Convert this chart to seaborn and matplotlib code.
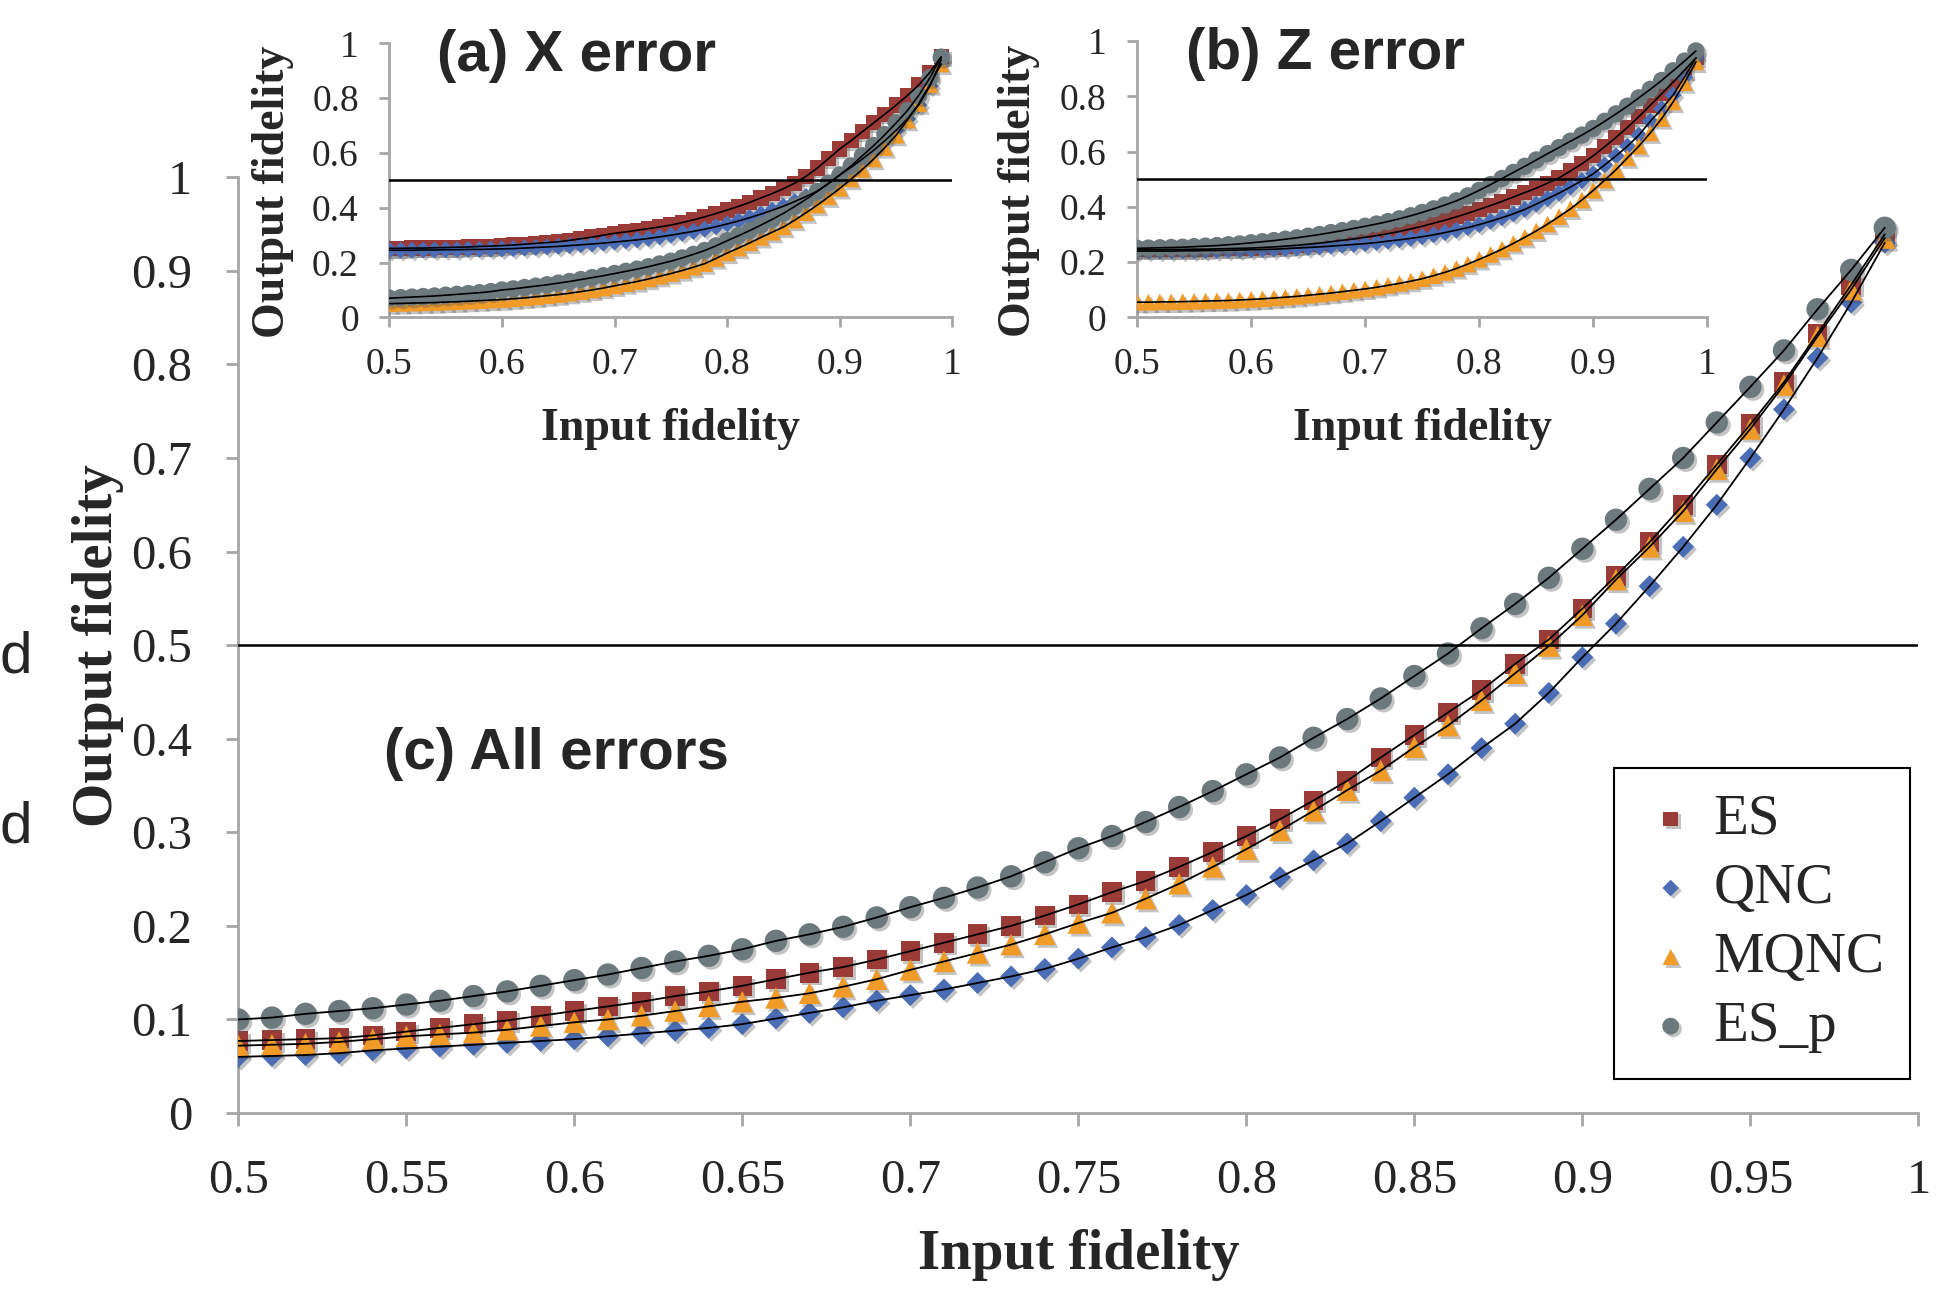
import matplotlib
matplotlib.use('Agg')
import matplotlib.pyplot as plt
import matplotlib.patheffects as pe
from matplotlib.ticker import FuncFormatter, MultipleLocator
import seaborn as sns

# Input fidelity grid (shared by all panels)
fidelity_in = [
    0.50, 0.51, 0.52, 0.53, 0.54, 0.55, 0.56, 0.57, 0.58, 0.59,
    0.60, 0.61, 0.62, 0.63, 0.64, 0.65, 0.66, 0.67, 0.68, 0.69,
    0.70, 0.71, 0.72, 0.73, 0.74, 0.75, 0.76, 0.77, 0.78, 0.79,
    0.80, 0.81, 0.82, 0.83, 0.84, 0.85, 0.86, 0.87, 0.88, 0.89,
    0.90, 0.91, 0.92, 0.93, 0.94, 0.95, 0.96, 0.97, 0.98, 0.99,
]

# (c) All errors
all_es = [
    0.077, 0.078, 0.079, 0.080, 0.083, 0.087, 0.091, 0.095, 0.099, 0.104,
    0.109, 0.114, 0.119, 0.125, 0.130, 0.136, 0.143, 0.150, 0.156, 0.164,
    0.173, 0.182, 0.191, 0.200, 0.211, 0.223, 0.236, 0.248, 0.263, 0.279,
    0.296, 0.314, 0.334, 0.355, 0.380, 0.404, 0.428, 0.452, 0.480, 0.506,
    0.539, 0.574, 0.610, 0.650, 0.693, 0.736, 0.781, 0.833, 0.885, 0.939,
]
all_qnc = [
    0.060, 0.061, 0.062, 0.064, 0.067, 0.069, 0.071, 0.073, 0.075, 0.077,
    0.079, 0.082, 0.085, 0.088, 0.091, 0.095, 0.101, 0.107, 0.113, 0.120,
    0.126, 0.132, 0.139, 0.146, 0.154, 0.165, 0.177, 0.188, 0.201, 0.217,
    0.233, 0.252, 0.270, 0.288, 0.312, 0.337, 0.362, 0.390, 0.416, 0.449,
    0.487, 0.523, 0.563, 0.605, 0.650, 0.700, 0.752, 0.807, 0.866, 0.930,
]
all_mqnc = [
    0.072, 0.073, 0.074, 0.076, 0.079, 0.082, 0.084, 0.086, 0.089, 0.093,
    0.097, 0.100, 0.104, 0.109, 0.114, 0.119, 0.123, 0.128, 0.135, 0.143,
    0.153, 0.162, 0.171, 0.180, 0.191, 0.203, 0.214, 0.229, 0.245, 0.263,
    0.282, 0.302, 0.323, 0.345, 0.366, 0.391, 0.414, 0.441, 0.470, 0.499,
    0.532, 0.570, 0.605, 0.643, 0.688, 0.731, 0.778, 0.830, 0.880, 0.935,
]
all_esp = [
    0.100, 0.102, 0.106, 0.109, 0.112, 0.116, 0.120, 0.125, 0.130, 0.136,
    0.142, 0.148, 0.155, 0.162, 0.168, 0.175, 0.184, 0.191, 0.199, 0.209,
    0.220, 0.230, 0.241, 0.253, 0.268, 0.283, 0.296, 0.311, 0.327, 0.344,
    0.362, 0.380, 0.401, 0.421, 0.443, 0.467, 0.491, 0.518, 0.544, 0.572,
    0.603, 0.634, 0.667, 0.700, 0.738, 0.776, 0.815, 0.859, 0.901, 0.946,
]

# (a) X error
x_es = [
    0.252, 0.252, 0.253, 0.253, 0.254, 0.255, 0.256, 0.257, 0.259, 0.260,
    0.262, 0.264, 0.267, 0.270, 0.273, 0.276, 0.281, 0.287, 0.293, 0.300,
    0.307, 0.312, 0.318, 0.324, 0.330, 0.337, 0.346, 0.356, 0.367, 0.379,
    0.392, 0.405, 0.420, 0.436, 0.452, 0.470, 0.490, 0.515, 0.545, 0.580,
    0.615, 0.645, 0.678, 0.710, 0.742, 0.775, 0.810, 0.848, 0.895, 0.951,
]
x_qnc = [
    0.245, 0.245, 0.245, 0.246, 0.246, 0.247, 0.247, 0.248, 0.248, 0.249,
    0.250, 0.251, 0.253, 0.255, 0.257, 0.259, 0.262, 0.265, 0.268, 0.271,
    0.275, 0.279, 0.283, 0.288, 0.294, 0.300, 0.307, 0.314, 0.322, 0.331,
    0.341, 0.352, 0.364, 0.377, 0.391, 0.406, 0.423, 0.441, 0.461, 0.488,
    0.520, 0.548, 0.578, 0.610, 0.645, 0.683, 0.725, 0.775, 0.845, 0.940,
]
x_mqnc = [
    0.050, 0.051, 0.052, 0.053, 0.054, 0.056, 0.057, 0.059, 0.061, 0.063,
    0.065, 0.068, 0.071, 0.075, 0.079, 0.083, 0.088, 0.094, 0.100, 0.107,
    0.115, 0.123, 0.131, 0.140, 0.150, 0.160, 0.171, 0.183, 0.196, 0.215,
    0.235, 0.253, 0.272, 0.292, 0.311, 0.330, 0.355, 0.382, 0.410, 0.440,
    0.471, 0.505, 0.540, 0.578, 0.620, 0.665, 0.720, 0.780, 0.850, 0.925,
]
x_esp = [
    0.070, 0.072, 0.074, 0.076, 0.078, 0.081, 0.084, 0.087, 0.090, 0.094,
    0.100, 0.104, 0.109, 0.114, 0.119, 0.125, 0.131, 0.138, 0.145, 0.152,
    0.160, 0.168, 0.176, 0.185, 0.195, 0.205, 0.217, 0.230, 0.244, 0.261,
    0.280, 0.298, 0.317, 0.337, 0.358, 0.380, 0.405, 0.431, 0.460, 0.490,
    0.520, 0.553, 0.590, 0.627, 0.667, 0.710, 0.755, 0.810, 0.875, 0.950,
]

# (b) Z error
z_es = [
    0.245, 0.245, 0.245, 0.246, 0.246, 0.247, 0.247, 0.248, 0.249, 0.250,
    0.251, 0.253, 0.255, 0.258, 0.261, 0.265, 0.269, 0.274, 0.279, 0.284,
    0.290, 0.296, 0.303, 0.311, 0.320, 0.330, 0.341, 0.352, 0.364, 0.377,
    0.391, 0.405, 0.420, 0.436, 0.452, 0.468, 0.486, 0.505, 0.530, 0.556,
    0.585, 0.618, 0.652, 0.688, 0.727, 0.768, 0.810, 0.852, 0.895, 0.940,
]
z_qnc = [
    0.240, 0.240, 0.240, 0.240, 0.241, 0.241, 0.242, 0.242, 0.243, 0.244,
    0.245, 0.246, 0.247, 0.249, 0.251, 0.253, 0.255, 0.258, 0.261, 0.264,
    0.267, 0.271, 0.276, 0.281, 0.286, 0.292, 0.299, 0.307, 0.316, 0.325,
    0.336, 0.348, 0.361, 0.375, 0.391, 0.410, 0.430, 0.450, 0.472, 0.495,
    0.520, 0.552, 0.585, 0.620, 0.660, 0.710, 0.755, 0.805, 0.870, 0.940,
]
z_mqnc = [
    0.055, 0.055, 0.056, 0.056, 0.057, 0.058, 0.059, 0.060, 0.061, 0.063,
    0.065, 0.067, 0.070, 0.073, 0.076, 0.080, 0.084, 0.088, 0.093, 0.098,
    0.103, 0.109, 0.116, 0.123, 0.131, 0.140, 0.151, 0.163, 0.177, 0.193,
    0.210, 0.228, 0.247, 0.268, 0.290, 0.313, 0.338, 0.365, 0.393, 0.425,
    0.460, 0.497, 0.535, 0.578, 0.620, 0.668, 0.720, 0.780, 0.850, 0.925,
]
z_esp = [
    0.250, 0.251, 0.252, 0.253, 0.254, 0.256, 0.258, 0.260, 0.263, 0.266,
    0.270, 0.274, 0.278, 0.283, 0.288, 0.294, 0.300, 0.307, 0.314, 0.322,
    0.330, 0.338, 0.347, 0.357, 0.368, 0.380, 0.393, 0.407, 0.422, 0.440,
    0.460, 0.481, 0.503, 0.525, 0.547, 0.570, 0.593, 0.615, 0.638, 0.660,
    0.684, 0.710, 0.737, 0.765, 0.795, 0.826, 0.858, 0.893, 0.928, 0.965,
]

series_names = ['ES', 'QNC', 'MQNC', 'ES_p']
series_colors = ['#9b3b38', '#4a6db5', '#f09a28', '#6c7a7e']
series_markers = ['s', 'D', '^', 'o']
series_sizes = [200, 125, 240, 260]   # marker area (pt^2) in the main panel
threshold = 0.5

SERIF = ['Liberation Serif', 'DejaVu Serif']
SANS = ['Liberation Sans Narrow', 'Liberation Sans', 'DejaVu Sans']
SPINE_GRAY = '#a6a6a6'

sns.set_theme(style="ticks")
plt.rcParams['font.family'] = SERIF


def fmt(v, pos):
    return f"{v:g}"


def draw_panel(ax, values, size_scale, line_w):
    shadow = [pe.SimplePatchShadow(offset=(2, -2), shadow_rgbFace='#555555', alpha=0.35),
              pe.Normal()]
    for name, vals, col, mk, sz in zip(series_names, values, series_colors,
                                       series_markers, series_sizes):
        sns.scatterplot(x=fidelity_in, y=vals, color=col, marker=mk,
                        s=sz * size_scale, edgecolor='none', linewidth=0,
                        label=name, ax=ax, zorder=3, legend=False)
        ax.collections[-1].set_path_effects(shadow)
    for vals in values:
        sns.lineplot(x=fidelity_in, y=vals, color='black', lw=line_w, ax=ax,
                     legend=False, zorder=5)
    ax.axhline(threshold, color='black', lw=1.8, zorder=4)
    sns.despine(ax=ax)
    for side in ('left', 'bottom'):
        ax.spines[side].set_color(SPINE_GRAY)
        ax.spines[side].set_linewidth(2)
    ax.set_ylim(0, 1)
    ax.xaxis.set_major_formatter(FuncFormatter(fmt))
    ax.yaxis.set_major_formatter(FuncFormatter(fmt))


fig = plt.figure(figsize=(19.47, 12.89), dpi=100)
fig.patch.set_facecolor('white')

# main panel (c)
ax = fig.add_axes([0.1224, 0.1365, 0.8629, 0.726])
draw_panel(ax, [all_es, all_qnc, all_mqnc, all_esp], 1.0, 1.3)
ax.set_xlim(0.5, 1.0)
ax.xaxis.set_major_locator(MultipleLocator(0.05))
ax.yaxis.set_major_locator(MultipleLocator(0.1))
ax.tick_params(axis='both', direction='out', length=9, width=2, color=SPINE_GRAY,
               labelsize=35, pad=24)
ax.set_xlabel('Input fidelity', fontsize=41, fontweight='bold')
ax.set_ylabel('Output fidelity', fontsize=41, fontweight='bold')
ax.xaxis.set_label_coords(0.5, -0.124)
ax.yaxis.set_label_coords(-0.068, 0.5)
ax.text(0.087, 0.384, '(c) All errors', transform=ax.transAxes, fontsize=42,
        fontweight='bold', family=SANS, va='center', ha='left')

leg = ax.legend(loc='upper right', bbox_to_anchor=(0.981, 0.404),
                bbox_transform=fig.transFigure, fontsize=41, frameon=True,
                fancybox=False, edgecolor='black', framealpha=1,
                borderpad=0.45, handletextpad=0.2, labelspacing=0.3,
                handlelength=1.1, markerscale=0.75, borderaxespad=0)
leg.get_frame().set_linewidth(1.5)

# inset panels (a) and (b)
insets = [
    ([0.2, 0.7538, 0.2892, 0.2125], [x_es, x_qnc, x_mqnc, x_esp], '(a) X error'),
    ([0.584, 0.7538, 0.2929, 0.2142], [z_es, z_qnc, z_mqnc, z_esp], '(b) Z error'),
]
for rect, vals, title in insets:
    ins = fig.add_axes(rect)
    ins.set_facecolor('none')
    draw_panel(ins, vals, 0.6, 1.2)
    ins.set_xlim(0.5, 1.0)
    ins.xaxis.set_major_locator(MultipleLocator(0.1))
    ins.yaxis.set_major_locator(MultipleLocator(0.2))
    ins.tick_params(axis='both', direction='out', length=7, width=2,
                    color=SPINE_GRAY, labelsize=27, pad=15)
    ins.set_xlabel('Input fidelity', fontsize=33, fontweight='bold')
    ins.set_ylabel('Output fidelity', fontsize=33, fontweight='bold')
    ins.xaxis.set_label_coords(0.5, -0.33)
    ins.yaxis.set_label_coords(-0.17, 0.457)
    ins.text(0.085, 0.955, title, transform=ins.transAxes, fontsize=42,
             fontweight='bold', family=SANS, va='center', ha='left')

# cropped letters from the neighbouring text on the left edge
for yf in (0.490, 0.358):
    fig.text(0.0, yf, 'd', fontsize=42, family=['Liberation Sans', 'DejaVu Sans'],
             ha='left', va='center')

fig.savefig('out.png', dpi=100, facecolor='white')
plt.close(fig)
